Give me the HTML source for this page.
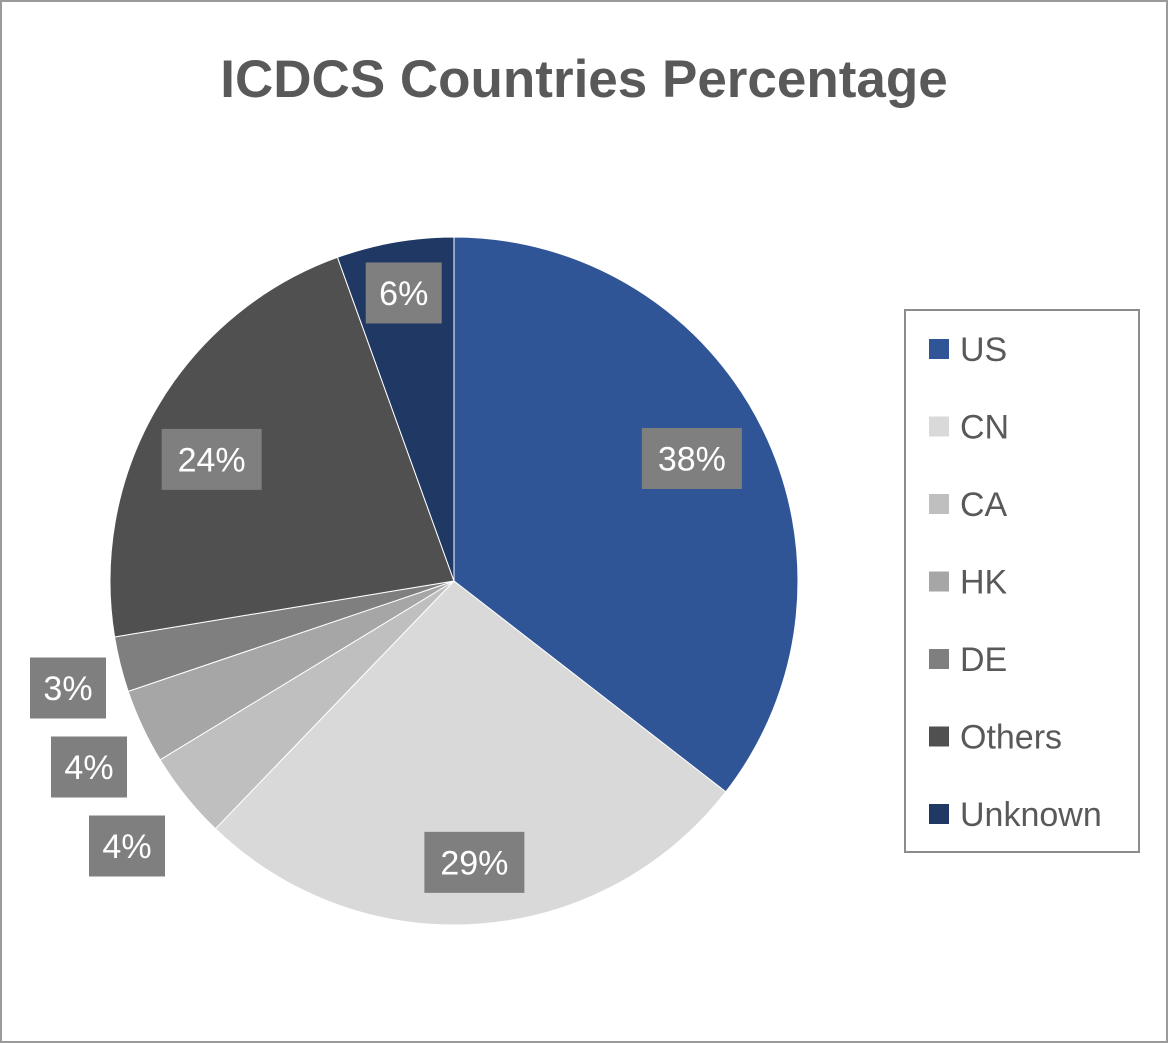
<!DOCTYPE html>
<html><head><meta charset="utf-8"><style>
body{margin:0;background:#fff;}
svg{display:block;font-family:"Liberation Sans",sans-serif;}
</style></head><body>
<svg id="chart" width="1168" height="1043">
<rect x="1" y="1" width="1166" height="1041" fill="#fff" stroke="#9a9a9a" stroke-width="2"/>
<text x="584" y="97" text-anchor="middle" font-size="53" font-weight="bold" fill="#595959">ICDCS Countries Percentage</text>
<g id="slices"></g>
<g id="labels"></g>
<rect x="905" y="310" width="234" height="542" fill="#fff" stroke="#8c8c8c" stroke-width="2"/>
<g id="legend"></g>
</svg>
<script>
const categories = ["US","CN","CA","HK","DE","Others","Unknown"];
const values = [35.5, 26.7, 4.1, 3.5, 2.6, 22.1, 5.5];
const labels = ["38%","29%","4%","4%","3%","24%","6%"];
const colors = ["#2F5597","#D9D9D9","#BFBFBF","#A6A6A6","#7F7F7F","#505050","#1F3864"];
const cx=454, cy=581, R=344;
const NS="http://www.w3.org/2000/svg";
const total=values.reduce((a,b)=>a+b,0);
function pt(a,r){return [cx+r*Math.sin(a), cy-r*Math.cos(a)];}
let acc=0;
const sg=document.getElementById('slices'), lg=document.getElementById('labels'), leg=document.getElementById('legend');
const labelR=[0.77,0.82,1.12,1.12,1.12,0.79,0.85];
const labelDX=[0,0,0,0,0,-8,0];
const labelDY=[-6,0,0,0,0,16,0];
const labelW=[100,100,76,76,76,100,76];
values.forEach((v,i)=>{
  const a0=acc/total*2*Math.PI; acc+=v; const a1=acc/total*2*Math.PI;
  const p0=pt(a0,R), p1=pt(a1,R);
  const large=(a1-a0)>Math.PI?1:0;
  const p=document.createElementNS(NS,'path');
  p.setAttribute('d',`M${cx},${cy}L${p0[0]},${p0[1]}A${R},${R} 0 ${large} 1 ${p1[0]},${p1[1]}Z`);
  p.setAttribute('fill',colors[i]);
  p.setAttribute('stroke','#fff');p.setAttribute('stroke-width','1');
  
  
  sg.appendChild(p);
  const am=(a0+a1)/2;
  let c=pt(am,R*labelR[i]);
  c=[c[0]+labelDX[i],c[1]+labelDY[i]];
  if(i>=2&&i<=4){
    const ys=[846,767,688]; const xs=[127,89,68];
    c=[xs[i-2],ys[i-2]];
  }
  const w=labelW[i],h=61;
  const g=document.createElementNS(NS,'g');
  
  
  const r=document.createElementNS(NS,'rect');
  r.setAttribute('x',c[0]-w/2);r.setAttribute('y',c[1]-h/2);r.setAttribute('width',w);r.setAttribute('height',h);r.setAttribute('fill','#7F7F7F');
  const t=document.createElementNS(NS,'text');
  t.setAttribute('x',c[0]);t.setAttribute('y',c[1]+12);t.setAttribute('text-anchor','middle');t.setAttribute('font-size','34');t.setAttribute('fill','#fff');
  t.textContent=labels[i];
  g.appendChild(r);g.appendChild(t);lg.appendChild(g);
});
categories.forEach((c,i)=>{
  const y=349+i*77.5;
  const g=document.createElementNS(NS,'g');
  
  
  const r=document.createElementNS(NS,'rect');
  r.setAttribute('x',929);r.setAttribute('y',y-10);r.setAttribute('width',20);r.setAttribute('height',20);r.setAttribute('fill',colors[i]);
  const t=document.createElementNS(NS,'text');
  t.setAttribute('x',960);t.setAttribute('y',y+12);t.setAttribute('font-size','34');t.setAttribute('fill','#595959');
  t.textContent=c;
  g.appendChild(r);g.appendChild(t);leg.appendChild(g);
});
</script>
</body></html>
